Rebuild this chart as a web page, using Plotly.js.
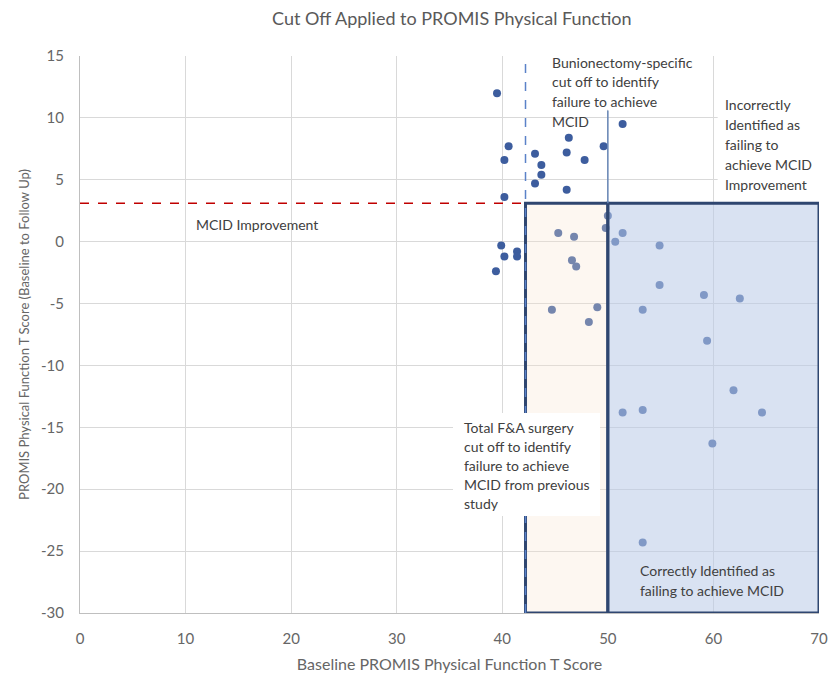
<!DOCTYPE html>
<html>
<head>
<meta charset="utf-8">
<script src="https://cdn.plot.ly/plotly-3.0.1.min.js"></script>
<style>html,body{margin:0;padding:0;background:#fff;}#chart{width:832px;height:680px;}</style>
</head>
<body>
<div id="chart"></div>
<script>
// Baseline PROMIS PF T score (x) and change baseline -> follow up (y)
const baselineScore = [39.5, 40.6, 40.2, 40.2, 43.1, 43.7, 43.7, 43.1, 46.3, 46.1, 47.8, 46.1, 49.6, 51.4,
  50.0, 49.8, 45.3, 46.8, 50.7, 51.4, 54.9, 39.9, 40.2, 41.4, 41.4, 39.4, 46.6, 47.0, 54.9, 59.1, 62.5,
  44.7, 49.0, 53.3, 48.2, 59.4, 61.9, 51.4, 53.3, 64.6, 59.9, 53.3];
const scoreChange = [12.0, 7.7, 6.6, 3.6, 7.1, 6.2, 5.4, 4.7, 8.4, 7.2, 6.6, 4.2, 7.7, 9.5,
  2.1, 1.1, 0.7, 0.4, 0.0, 0.7, -0.3, -0.3, -1.2, -0.8, -1.2, -2.4, -1.5, -2.0, -3.5, -4.3, -4.6,
  -5.5, -5.3, -5.5, -6.5, -8.0, -12.0, -13.8, -13.6, -13.8, -16.3, -24.3];

const xRange = [0, 70];
const yRange = [-30, 15];
const xTickVals = [0, 10, 20, 30, 40, 50, 60, 70];
const xTickLabels = ['0', '10', '20', '30', '40', '50', '60', '70'];
const yTickVals = [15, 10, 5, 0, -5, -10, -15, -20, -25, -30];
const yTickLabels = ['15', '10', '5', '0', '-5', '-10', '-15', '-20', '-25', '-30'];

const mcidImprovement = 3.1;      // MCID improvement threshold
const cutoffTotalFA = 42.2;       // Total F&A surgery cut off (previous study)
const cutoffBunion = 50;          // Bunionectomy-specific cut off
const bunionLineTop = 10.6;

const titleText = 'Cut Off Applied to PROMIS Physical Function';
const xTitle = 'Baseline PROMIS Physical Function T Score';
const yTitle = 'PROMIS Physical Function T Score (Baseline to Follow Up)';

const bunionLines = ['Bunionectomy-specific', 'cut off to identify', 'failure to achieve', 'MCID'];
const incorrectLines = ['Incorrectly', 'Identified as', 'failing to', 'achieve MCID', 'Improvement'];
const totalLines = ['Total F&A surgery', 'cut off to identify', 'failure to achieve', 'MCID from previous', 'study'];
const correctLines = ['Correctly Identified as', 'failing to achieve MCID'];
const mcidLabel = 'MCID Improvement';

const FONT = 'Lato, "Open Sans", sans-serif';
const TXT = '#404040';

function lineAnns(lines, x, yTop, step) {
  return lines.map((t, i) => ({
    text: t, x: x, y: yTop - i * step, xref: 'x', yref: 'y',
    xanchor: 'left', yanchor: 'middle', showarrow: false,
    font: {family: FONT, size: 14, color: TXT}
  }));
}

const annotations = [].concat(
  lineAnns(bunionLines, 44.5, 14.5, 1.6),
  lineAnns(incorrectLines, 60.9, 11.1, 1.62),
  lineAnns(totalLines, 36.15, -15.04, 1.53),
  lineAnns(correctLines, 52.9, -26.56, 1.62),
  lineAnns([mcidLabel], 10.8, 1.41, 0)
);

const shapes = [
  // peach region
  {type: 'rect', xref: 'x', yref: 'y', x0: cutoffTotalFA, x1: cutoffBunion, y0: yRange[0], y1: mcidImprovement,
   fillcolor: 'rgba(250,228,210,0.3)', line: {color: '#2f4670', width: 3}, layer: 'above'},
  // blue region
  {type: 'rect', xref: 'x', yref: 'y', x0: cutoffBunion, x1: xRange[1], y0: yRange[0], y1: mcidImprovement,
   fillcolor: 'rgba(185,202,232,0.55)', line: {color: '#2f4670', width: 3}, layer: 'above'},
  // MCID red dashed
  {type: 'line', xref: 'x', yref: 'y', x0: xRange[0], x1: cutoffTotalFA, y0: mcidImprovement, y1: mcidImprovement,
   line: {color: '#c00000', width: 1.5, dash: 'dash'}, layer: 'above'},
  // total F&A cut off dashed blue
  {type: 'line', xref: 'x', yref: 'y', x0: cutoffTotalFA, x1: cutoffTotalFA, y0: yRange[0], y1: 14.8,
   line: {color: '#5b82c8', width: 1.5, dash: 'dash'}, layer: 'above'},
  // bunion cut off solid
  {type: 'line', xref: 'x', yref: 'y', x0: cutoffBunion, x1: cutoffBunion, y0: mcidImprovement, y1: bunionLineTop,
   line: {color: '#6685b5', width: 1.5}, layer: 'above'},
  // white text boxes
  {type: 'rect', xref: 'x', yref: 'y', x0: 43.3, x1: 59.2, y0: 10.65, y1: 15.3,
   fillcolor: '#ffffff', line: {width: 0}, layer: 'above'},
  {type: 'rect', xref: 'x', yref: 'y', x0: 60.4, x1: 70.2, y0: 3.8, y1: 11.9,
   fillcolor: '#ffffff', line: {width: 0}, layer: 'above'},
  {type: 'rect', xref: 'x', yref: 'y', x0: 35.33, x1: 49.26, y0: -22.17, y1: -13.85,
   fillcolor: '#ffffff', line: {width: 0}, layer: 'above'}
];

const trace = {
  type: 'scatter', mode: 'markers', x: baselineScore, y: scoreChange,
  marker: {color: '#3d5d9e', size: 8}, hoverinfo: 'x+y'
};

const layout = {
  width: 832, height: 680,
  margin: {l: 80, r: 13, t: 56, b: 67},
  paper_bgcolor: '#ffffff', plot_bgcolor: '#ffffff',
  showlegend: false,
  font: {family: FONT, color: '#595959'},
  title: {text: titleText, x: 0.543, xanchor: 'center', y: 0.973, yanchor: 'middle',
          font: {family: FONT, size: 18, color: '#595959'}},
  xaxis: {range: xRange, tickmode: 'array', tickvals: xTickVals, ticktext: xTickLabels,
          showgrid: true, gridcolor: '#d9d9d9', gridwidth: 1,
          zeroline: false, showline: true, linecolor: '#bfbfbf', linewidth: 1,
          ticks: '', ticklabelstandoff: 12, tickfont: {family: FONT, size: 15, color: '#666666'},
          title: {text: xTitle, standoff: 12, font: {family: FONT, size: 16, color: '#666666'}}},
  yaxis: {range: yRange, tickmode: 'array', tickvals: yTickVals, ticktext: yTickLabels,
          showgrid: true, gridcolor: '#d9d9d9', gridwidth: 1,
          zeroline: false, showline: true, linecolor: '#bfbfbf', linewidth: 1,
          ticks: '', ticklabelstandoff: 12, tickfont: {family: FONT, size: 15, color: '#666666'},
          title: {text: yTitle, standoff: 8, font: {family: FONT, size: 13, color: '#666666'}}},
  shapes: shapes,
  annotations: annotations
};

Plotly.newPlot('chart', [trace], layout, {displayModeBar: false, staticPlot: true});
</script>
</body>
</html>
